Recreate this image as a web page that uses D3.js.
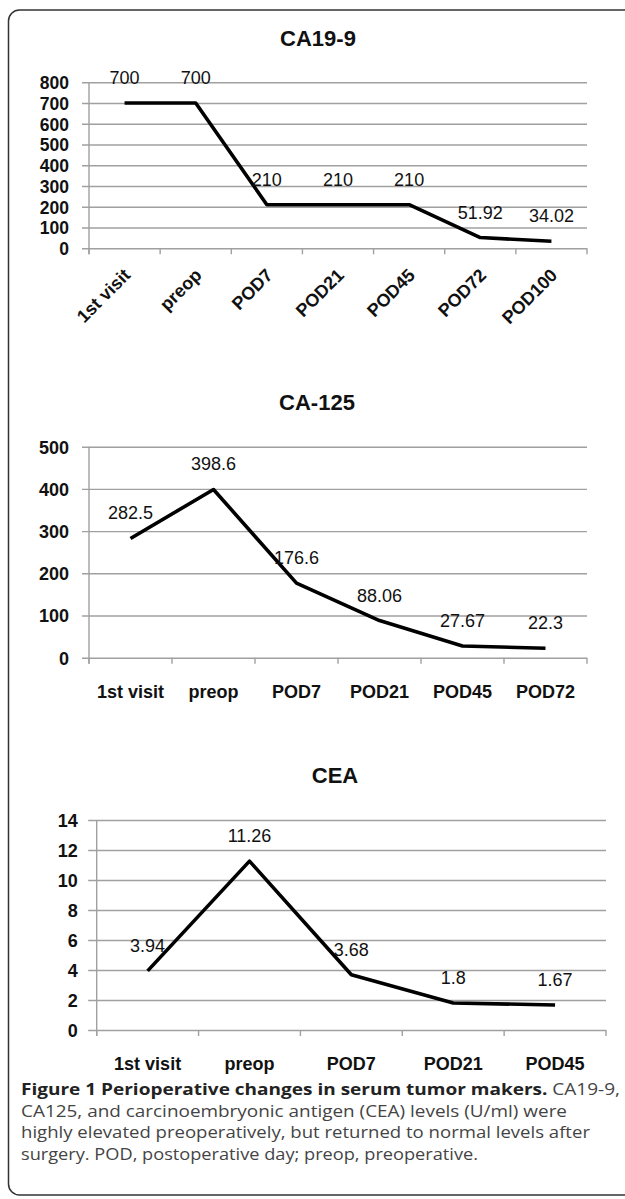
<!DOCTYPE html>
<html><head><meta charset="utf-8">
<script src="https://cdn.jsdelivr.net/npm/d3@7"></script>
<style>html,body{margin:0;padding:0;background:#fff;}svg{display:block;}</style>
</head><body>
<script>
// ---- data ----
const ca199Cats = ["1st visit","preop","POD7","POD21","POD45","POD72","POD100"];
const ca199Vals = [700,700,210,210,210,51.92,34.02];
const ca199Labels = ["700","700","210","210","210","51.92","34.02"];
const ca199Ticks = [0,100,200,300,400,500,600,700,800];

const ca125Cats = ["1st visit","preop","POD7","POD21","POD45","POD72"];
const ca125Vals = [282.5,398.6,176.6,88.06,27.67,22.3];
const ca125Labels = ["282.5","398.6","176.6","88.06","27.67","22.3"];
const ca125Ticks = [0,100,200,300,400,500];

const ceaCats = ["1st visit","preop","POD7","POD21","POD45"];
const ceaVals = [3.94,11.26,3.68,1.8,1.67];
const ceaLabels = ["3.94","11.26","3.68","1.8","1.67"];
const ceaTicks = [0,2,4,6,8,10,12,14];

const captionBold = "Figure 1 Perioperative changes in serum tumor makers.";
const captionLines = [
  " CA19-9,",
  "CA125, and carcinoembryonic antigen (CEA) levels (U/ml) were",
  "highly elevated preoperatively, but returned to normal levels after",
  "surgery. POD, postoperative day; preop, preoperative."
];

const W = 625, H = 1199;
const FONT = "'Liberation Sans',Arial,sans-serif";
const svg = d3.select("body").append("svg").attr("width", W).attr("height", H);

// frame
svg.append("rect").attr("x", 8.5).attr("y", 10).attr("width", 700).attr("height", 1185)
  .attr("rx", 11).attr("fill", "none").attr("stroke", "#333").attr("stroke-width", 1.5);

function drawChart(o) {
  const g = svg.append("g");
  const x = d3.scaleBand().domain(o.cats).range([o.x0, o.x1]).padding(0);
  const y = d3.scaleLinear().domain([0, o.ticks[o.ticks.length-1]]).range([o.yB, o.yT]);
  // title
  g.append("text").attr("x", o.tx).attr("y", o.ty).attr("text-anchor", "middle")
    .attr("font-family", FONT).attr("font-weight", "bold").attr("font-size", 22).attr("fill", "#111")
    .text(o.title);
  // y axis with gridlines
  const ya = g.append("g").attr("transform", `translate(${o.x0},0)`)
    .call(d3.axisLeft(y).tickValues(o.ticks).tickSize(-(o.x1 - o.x0)).tickSizeOuter(0).tickPadding(0));
  ya.select(".domain").remove();
  ya.selectAll(".tick line").attr("x1", -o.tickL).attr("stroke", "#a0a0a0").attr("stroke-width", 1.4);
  ya.selectAll(".tick text").attr("x", -o.labOff).attr("dy", "0.36em").attr("font-family", FONT)
    .attr("font-weight", "bold").attr("font-size", o.yFs).attr("fill", "#111");
  // vertical axis line
  g.append("line").attr("x1", o.x0).attr("x2", o.x0).attr("y1", o.yT).attr("y2", o.yB + 6)
    .attr("stroke", "#a0a0a0").attr("stroke-width", 1.4);
  // x axis ticks at category boundaries
  const bounds = o.cats.map(c => x(c)).concat([o.x1]);
  g.selectAll(".xt").data(bounds).join("line")
    .attr("x1", d => d).attr("x2", d => d).attr("y1", o.yB).attr("y2", o.yB + 6)
    .attr("stroke", "#a0a0a0").attr("stroke-width", 1.4);
  // x labels
  const cx = c => x(c) + x.bandwidth() / 2;
  if (o.rotate) {
    g.selectAll(".xl").data(o.cats).join("text")
      .attr("transform", c => `translate(${cx(c) + 7},${o.yB + 28}) rotate(-45)`)
      .attr("text-anchor", "end")
      .attr("font-family", FONT).attr("font-weight", "bold").attr("font-size", 18).attr("fill", "#111")
      .text(c => c);
  } else {
    g.selectAll(".xl").data(o.cats).join("text")
      .attr("x", c => cx(c)).attr("y", o.yB + 40).attr("text-anchor", "middle")
      .attr("font-family", FONT).attr("font-weight", "bold").attr("font-size", 18).attr("fill", "#111")
      .text(c => c);
  }
  // line
  const pts = o.cats.map((c, i) => [cx(c), y(o.vals[i])]);
  g.append("path").attr("d", d3.line()(pts)).attr("fill", "none").attr("stroke", "#000")
    .attr("stroke-width", 3.6).attr("stroke-linejoin", "round");
  // data labels
  g.selectAll(".dl").data(o.cats).join("text")
    .attr("x", c => cx(c)).attr("y", (c, i) => y(o.vals[i]) - 19).attr("text-anchor", "middle")
    .attr("font-family", FONT).attr("font-size", 18).attr("fill", "#111")
    .text((c, i) => o.labels[i]);
}

drawChart({title:"CA19-9", cats:ca199Cats, vals:ca199Vals, labels:ca199Labels, ticks:ca199Ticks,
  x0:89, x1:587, yT:82.3, yB:248.3, tx:318, ty:46, tickL:7, labOff:20, yFs:17.5, rotate:true});
drawChart({title:"CA-125", cats:ca125Cats, vals:ca125Vals, labels:ca125Labels, ticks:ca125Ticks,
  x0:89, x1:587, yT:446.7, yB:657.7, tx:317, ty:410, tickL:7, labOff:20, yFs:18, rotate:false});
drawChart({title:"CEA", cats:ceaCats, vals:ceaVals, labels:ceaLabels, ticks:ceaTicks,
  x0:96.7, x1:606, yT:820, yB:1030, tx:335, ty:783, tickL:8.5, labOff:19, yFs:18, rotate:false});

// caption
const CFONT = "'Open Sans',Lato,sans-serif";
const CFS = 15.7;
const capX = 21, capY = [1095, 1116.5, 1138, 1159.5];
const targetEnd = [620, 567, 590, 478];
const t1 = svg.append("text").attr("x", capX).attr("y", capY[0]).attr("font-family", CFONT)
  .attr("font-size", CFS).attr("fill", "#222");
t1.append("tspan").attr("font-weight", "bold").text(captionBold);
t1.append("tspan").attr("fill", "#444").text(captionLines[0]);
const lines = [t1];
for (let i = 1; i < 4; i++) {
  lines.push(svg.append("text").attr("x", capX).attr("y", capY[i]).attr("font-family", CFONT)
    .attr("font-size", CFS).attr("fill", "#444").text(captionLines[i]));
}
lines.forEach((t, i) => {
  t.attr("textLength", targetEnd[i] - capX).attr("lengthAdjust", "spacingAndGlyphs");
});
</script>
</body></html>
